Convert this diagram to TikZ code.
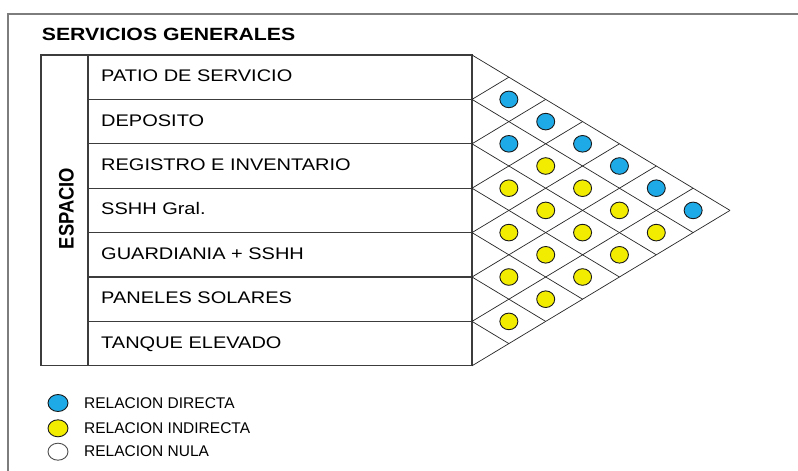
\documentclass[tikz,border=0pt]{standalone}
\usepackage{fontspec}
\setmainfont{Liberation Sans}
\newfontfamily\rowfont[FakeStretch=1.19]{Liberation Sans}
\newfontfamily\titlefont[FakeStretch=1.2]{Liberation Sans}
\usetikzlibrary{shapes.geometric}
\definecolor{relblue}{RGB}{30,170,230}
\definecolor{relyellow}{RGB}{242,236,0}
\definecolor{framegray}{RGB}{125,125,125}
\definecolor{tablegray}{RGB}{60,60,60}
\tikzset{
  rowtext/.style={anchor=base west, inner sep=0pt, font=\rowfont\fontsize{16.8}{20}\selectfont},
  legtext/.style={anchor=base west, inner sep=0pt, font=\fontsize{15.5}{18}\selectfont},
  dot/.style={ellipse, draw=black!90, line width=0.9pt, minimum width=18pt, minimum height=16.6pt, inner sep=0pt},
  legdot/.style={ellipse, draw=black!90, line width=0.9pt, minimum width=20pt, minimum height=17pt, inner sep=0pt},
  tableline/.style={draw=tablegray, line width=1.1pt},
  gridline/.style={draw=black!85, line width=0.7pt}
}
\begin{document}
\begin{tikzpicture}[x=1pt,y=-1pt]
\useasboundingbox[fill=white] (0,0) rectangle (798,471);
% outer frame
\draw[framegray, line width=2pt] (8,471) -- (8,14) -- (798,14);
% title
\node[anchor=base west, inner sep=0pt, font=\titlefont\bfseries\fontsize{17.7}{20}\selectfont] (title) at (41.7,40) {SERVICIOS GENERALES};
% table
\def\cw{36.857}
\def\ch{22.2}
\draw[tableline] (41,55) rectangle (472,365.8);
\draw[tableline] (88,55) -- (88,365.8);
\foreach \k in {1,...,6}{
  \draw[tableline] (88,55+44.4*\k) -- (472,55+44.4*\k);
}
\node[rotate=90, inner sep=0pt] (espacio) at (66.5,208.5) {\scalebox{1}[1.14]{\bfseries\fontsize{18.4}{20}\selectfont ESPACIO}};
\foreach \t [count=\i] in {PATIO DE SERVICIO,DEPOSITO,REGISTRO E INVENTARIO,SSHH Gral.,GUARDIANIA + SSHH,PANELES SOLARES,TANQUE ELEVADO}{
  \node[rowtext] (row\i) at (101,55+44.4*\i-22.2+4.4) {\t};
}
% diamond grid
\foreach \k in {0,...,7}{
  \pgfmathsetmacro{\yk}{55+44.4*\k}
  \pgfmathsetmacro{\dn}{7-\k}
  \draw[gridline] (472,\yk) -- ++(\cw*\dn,\ch*\dn);
  \draw[gridline] (472,\yk) -- ++(\cw*\k,-\ch*\k);
}
% relation dots
\foreach \d in {1,...,6}{
  \pgfmathtruncatemacro{\imax}{7-\d}
  \foreach \i in {1,...,\imax}{
    \pgfmathtruncatemacro{\k}{\i+\d}
    \pgfmathtruncatemacro{\isblue}{(\i==1) || (\i==2 && \k==3) ? 1 : 0}
    \ifnum\isblue=1
      \node[dot, fill=relblue] (c\i-\k) at (472+\cw*\d, 55+\ch*\i+\ch*\k-\ch) {};
    \else
      \node[dot, fill=relyellow] (c\i-\k) at (472+\cw*\d, 55+\ch*\i+\ch*\k-\ch) {};
    \fi
  }
}
% legend
\node[legdot, fill=relblue] (lb) at (58,403) {};
\node[legdot, fill=relyellow] (ly) at (58,428.3) {};
\node[legdot, fill=white, draw=black!70] (lw) at (58,451.7) {};
\node[legtext] (lbt) at (84,408) {RELACION DIRECTA};
\node[legtext] (lyt) at (84,433) {RELACION INDIRECTA};
\node[legtext] (lwt) at (84,456.5) {RELACION NULA};
\end{tikzpicture}
\end{document}
